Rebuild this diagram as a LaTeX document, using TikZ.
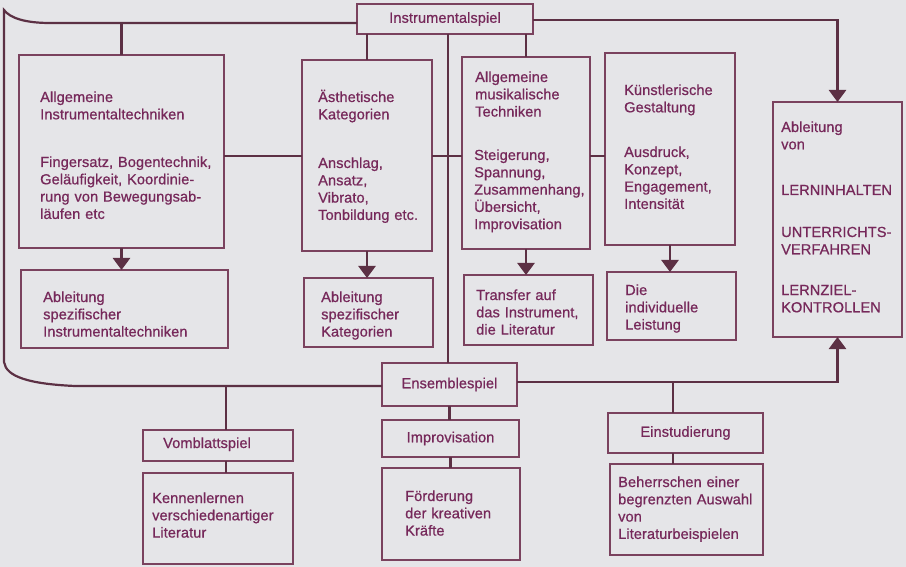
\documentclass[tikz,border=0pt]{standalone}
\usepackage{fontspec}
\setmainfont{Liberation Sans}[FakeBold=0.7,LetterSpace=0.5]
\usetikzlibrary{arrows.meta,calc}
\definecolor{bg}{RGB}{229,229,232}
\definecolor{ln}{RGB}{92,48,68}
\definecolor{bd}{RGB}{122,66,94}
\definecolor{tx}{RGB}{118,40,90}
\newcommand\mybox[5]{\node[box,anchor=north west,minimum width={#4pt-#2pt},minimum height={#5pt-#3pt}] (#1) at (#2,#3) {};}
\begin{document}
\begin{tikzpicture}[x=1pt,y=-1pt,
  box/.style={draw=bd,line width=1.3pt,inner sep=0pt,outer sep=0pt},
  conn/.style={draw=ln,line width=2.6pt},
  arr/.style={draw=ln,line width=2.6pt,-{Triangle[width=17pt,length=12pt]}},
  lbl/.style={text=tx,font=\fontsize{14.6}{17.3}\selectfont,inner sep=0pt,align=left,text width=300pt,anchor=base west},
  ctr/.style={text=tx,font=\fontsize{14.6}{17.3}\selectfont,inner sep=0pt}]
\fill[bg] (0,0) rectangle (906,567);
\useasboundingbox (0,0) rectangle (906,567);

% boxes
\mybox{instr}{357}{4}{533}{34}
\mybox{box1}{19}{55}{224}{248}
\mybox{box2}{21}{270}{228}{348}
\mybox{aest}{302}{60}{432}{251}
\mybox{akat}{304}{278}{433}{347}
\mybox{mus}{462}{57}{590}{249}
\mybox{tra}{464}{275}{593}{345}
\mybox{kue}{605}{53}{735}{245}
\mybox{die}{607}{272}{736}{340}
\mybox{abl}{773}{102}{902}{337}
\mybox{ens}{382}{363}{517}{406}
\mybox{imp}{382}{420}{519}{457}
\mybox{foe}{382}{468}{520}{560}
\mybox{vom}{143}{430}{293}{461}
\mybox{ken}{143}{473}{293}{564}
\mybox{ein}{608}{413}{763}{453}
\mybox{beh}{610}{464}{763}{555}

% helper coordinates
\coordinate (tl) at (4,10);
\coordinate (ya) at (0,23);
\coordinate (yb) at (0,386);
\coordinate (yc) at (0,156);
\coordinate (yd) at (0,20);
\coordinate (ye) at (0,382);
\coordinate (xv) at (448,0);
\coordinate (xe) at (673,0);
\coordinate (xf) at (226,0);

% outer bracket line
\draw[conn,line width=2.2pt] (instr.west |- ya) -- (50,23) .. controls (25,23) and (10,18) .. (tl)
  -- (4,362) .. controls (6,377) and (30,384) .. (75,386) -- (ens.west |- yb);
% branches
\draw[conn] (box1.north |- ya) -- (box1.north);
\draw[conn] (box1.east |- yc) -- (aest.west |- yc);
\draw[conn] (aest.east |- yc) -- (mus.west |- yc);
\draw[conn] (mus.east |- yc) -- (kue.west |- yc);
\draw[conn] (xv |- instr.south) -- (xv |- ens.north);
\draw[conn] (aest.north |- instr.south) -- (aest.north);
\draw[conn] (mus.north |- instr.south) -- (mus.north);
\draw[arr] (instr.east |- yd) -- (abl.north |- yd) -- (abl.north);
\draw[arr] (ens.east |- ye) -- (abl.south |- ye) -- (abl.south);
\draw[conn] (xe |- ye) -- (xe |- ein.north);
\draw[conn] (xe |- ein.south) -- (xe |- beh.north);
\draw[conn] (ens.south) -- (ens.south |- imp.north);
\draw[conn] (imp.south) -- (imp.south |- foe.north);
\draw[conn] (xf |- yb) -- (xf |- vom.north);
\draw[conn] (xf |- vom.south) -- (xf |- ken.north);
\draw[arr] (box1.south) -- (box1.south |- box2.north);
\draw[arr] (aest.south) -- (aest.south |- akat.north);
\draw[arr] (mus.south) -- (mus.south |- tra.north);
\draw[arr] (kue.south) -- (kue.south |- die.north);

% texts
\node[ctr] (t-instr) at (instr) {Instrumentalspiel};
\node[lbl] (t1a) at (40,102) {Allgemeine\\Instrumentaltechniken};
\node[lbl] (t1b) at (40,167) {Fingersatz, Bogentechnik,\\Geläufigkeit, Koordinie-\\rung von Bewegungsab-\\läufen etc};
\node[lbl] (t2) at (43,302) {Ableitung\\spezifischer\\Instrumentaltechniken};
\node[lbl] (t3a) at (318,102) {Ästhetische\\Kategorien};
\node[lbl] (t3b) at (318,168) {Anschlag,\\Ansatz,\\Vibrato,\\Tonbildung etc.};
\node[lbl] (t4) at (321,302) {Ableitung\\spezifischer\\Kategorien};
\node[lbl] (t5a) at (475,82) {Allgemeine\\musikalische\\Techniken};
\node[lbl] (t5b) at (474,160) {Steigerung,\\Spannung,\\Zusammenhang,\\Übersicht,\\Improvisation};
\node[lbl] (t6) at (476,300) {Transfer auf\\das Instrument,\\die Literatur};
\node[lbl] (t7a) at (624,95) {Künstlerische\\Gestaltung};
\node[lbl] (t7b) at (624,157) {Ausdruck,\\Konzept,\\Engagement,\\Intensität};
\node[lbl] (t8) at (625,295) {Die\\individuelle\\Leistung};
\node[lbl] (t9a) at (781,132) {Ableitung\\von};
\node[lbl] (t9b) at (781,195) {LERNINHALTEN};
\node[lbl] (t9c) at (781,237) {UNTERRICHTS-\\VERFAHREN};
\node[lbl] (t9d) at (781,295) {LERNZIEL-\\KONTROLLEN};
\node[ctr] (t-ens) at (ens) {Ensemblespiel};
\node[ctr] (t-imp) at (imp) {Improvisation};
\node[lbl] (t-foe) at (405,501) {Förderung\\der kreativen\\Kräfte};
\node[lbl] (t-vom) at (163,448) {Vomblattspiel};
\node[lbl] (t-ken) at (152,503) {Kennenlernen\\verschiedenartiger\\Literatur};
\node[ctr] (t-ein) at (ein) {Einstudierung};
\node[lbl] (t-beh) at (618,487) {Beherrschen einer\\begrenzten Auswahl\\von\\Literaturbeispielen};
\end{tikzpicture}
\end{document}
